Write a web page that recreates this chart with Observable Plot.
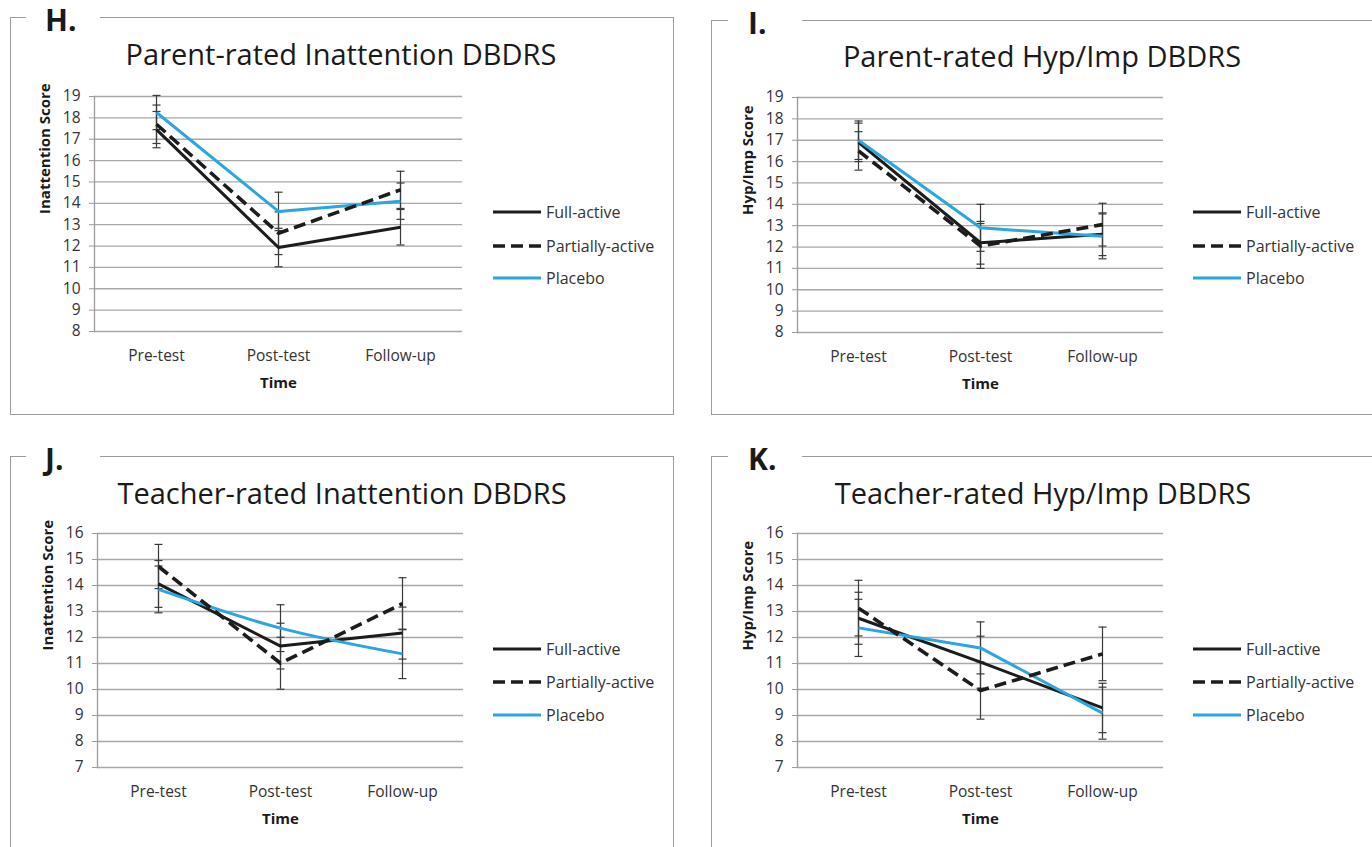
<!DOCTYPE html>
<html>
<head>
<meta charset="utf-8">
<script src="https://cdn.jsdelivr.net/npm/d3@7"></script>
<script src="https://cdn.jsdelivr.net/npm/@observablehq/plot@0.6"></script>
<style>
  body { margin: 0; background: #fff; font-family: "Open Sans", sans-serif; }
  #root { position: relative; width: 1372px; height: 847px; overflow: hidden; background: #fff; }
  .frame { position: absolute; border: 1.5px solid #9b9b9b; box-sizing: border-box; }
  .tag { position: absolute; background: #fff; font-weight: 700; font-size: 30px; line-height: 30px; color: #1a1a1a; height: 36px; }
  .title { position: absolute; font-size: 29px; line-height: 29px; color: #1a1a1a; white-space: nowrap; transform: translate(-50%, -50%); }
  .plot { position: absolute; }
  .legend-row { position: absolute; height: 20px; display: flex; align-items: center; font-size: 16px; color: #333; white-space: nowrap; }
  .legend-row svg { margin-right: 5px; }
</style>
</head>
<body>
<div id="root"></div>
<script>
// ---- categories ----
const times = ["Pre-test", "Post-test", "Follow-up"];
const groups = ["Full-active", "Partially-active", "Placebo"];

// ---- tick labels ----
const parentTicks = [8, 9, 10, 11, 12, 13, 14, 15, 16, 17, 18, 19];
const teacherTicks = [7, 8, 9, 10, 11, 12, 13, 14, 15, 16];

// ---- H. Parent-rated Inattention DBDRS ----
const H_full = [17.45, 11.93, 12.88];
const H_fullErr = [0.85, 0.9, 0.83];
const H_partial = [17.7, 12.6, 14.63];
const H_partialErr = [0.9, 1.0, 0.87];
const H_placebo = [18.25, 13.62, 14.1];
const H_placeboErr = [0.8, 0.9, 0.85];

// ---- I. Parent-rated Hyp/Imp DBDRS ----
const I_full = [16.9, 12.2, 12.6];
const I_fullErr = [0.9, 1.0, 1.0];
const I_partial = [16.5, 12.05, 13.05];
const I_partialErr = [0.9, 1.05, 1.0];
const I_placebo = [17.0, 12.9, 12.5];
const I_placeboErr = [0.9, 1.1, 1.05];

// ---- J. Teacher-rated Inattention DBDRS ----
const J_full = [14.06, 11.67, 12.17];
const J_fullErr = [0.9, 0.88, 1.0];
const J_partial = [14.73, 11.01, 13.3];
const J_partialErr = [0.85, 1.0, 1.0];
const J_placebo = [13.85, 12.36, 11.37];
const J_placeboErr = [0.9, 0.9, 0.95];

// ---- K. Teacher-rated Hyp/Imp DBDRS ----
const K_full = [12.74, 11.05, 9.29];
const K_fullErr = [1.0, 1.0, 0.95];
const K_partial = [13.13, 9.96, 11.37];
const K_partialErr = [1.07, 1.1, 1.03];
const K_placebo = [12.37, 11.6, 9.09];
const K_placeboErr = [1.1, 1.0, 1.0];

const styles = {
  "Full-active": {stroke: "#1c1c1c", strokeWidth: 3},
  "Partially-active": {stroke: "#1c1c1c", strokeWidth: 3.6, strokeDasharray: "12,6"},
  "Placebo": {stroke: "#2ba6de", strokeWidth: 3}
};
const drawOrder = ["Full-active", "Placebo", "Partially-active"];

// horizontal cap symbol for error bars (half-width = r)
const capSymbol = {
  draw(context, size) {
    const w = Math.sqrt(size / Math.PI);
    context.moveTo(-w, 0);
    context.lineTo(w, 0);
  }
};

const panels = [
  {tag: "H.", title: "Parent-rated Inattention DBDRS", ylabel: "Inattention Score",
   values: [H_full, H_partial, H_placebo], errs: [H_fullErr, H_partialErr, H_placeboErr],
   ticks: parentTicks, plot: {left: 94, right: 462, top: 96, bottom: 331},
   frame: {left: 10, top: 17, right: 674, bottom: 415}, tagBox: {left: 26, width: 74, top: 5, pad: 19},
   titlePos: {x: 341, y: 53}, legend: {x: 493, ys: [212, 246, 278]}, smooth: false},
  {tag: "I.", title: "Parent-rated Hyp/Imp DBDRS", ylabel: "Hyp/Imp Score",
   values: [I_full, I_partial, I_placebo], errs: [I_fullErr, I_partialErr, I_placeboErr],
   ticks: parentTicks, plot: {left: 797, right: 1163, top: 97, bottom: 332},
   frame: {left: 711, top: 20, right: 1400, bottom: 415}, tagBox: {left: 728, width: 74, top: 8, pad: 20},
   titlePos: {x: 1042, y: 55}, legend: {x: 1193, ys: [212, 246, 278]}, smooth: false},
  {tag: "J.", title: "Teacher-rated Inattention DBDRS", ylabel: "Inattention Score",
   values: [J_full, J_partial, J_placebo], errs: [J_fullErr, J_partialErr, J_placeboErr],
   ticks: teacherTicks, plot: {left: 97, right: 463, top: 533, bottom: 767},
   frame: {left: 10, top: 456, right: 674, bottom: 900}, tagBox: {left: 26, width: 74, top: 444, pad: 19},
   titlePos: {x: 342, y: 492}, legend: {x: 493, ys: [649, 682, 715]}, smooth: true},
  {tag: "K.", title: "Teacher-rated Hyp/Imp DBDRS", ylabel: "Hyp/Imp Score",
   values: [K_full, K_partial, K_placebo], errs: [K_fullErr, K_partialErr, K_placeboErr],
   ticks: teacherTicks, plot: {left: 797, right: 1163, top: 533, bottom: 767},
   frame: {left: 711, top: 456, right: 1400, bottom: 900}, tagBox: {left: 728, width: 74, top: 444, pad: 20},
   titlePos: {x: 1043, y: 492}, legend: {x: 1193, ys: [649, 682, 715]}, smooth: false}
];

const root = document.getElementById("root");

function el(tag, cls, css, text) {
  const e = document.createElement(tag);
  if (cls) e.className = cls;
  Object.assign(e.style, css || {});
  if (text != null) e.textContent = text;
  root.appendChild(e);
  return e;
}

for (const p of panels) {
  el("div", "frame", {left: p.frame.left + "px", top: p.frame.top + "px",
    width: (p.frame.right - p.frame.left) + "px", height: (p.frame.bottom - p.frame.top) + "px"});
  el("div", "tag", {left: p.tagBox.left + "px", top: p.tagBox.top + "px", width: p.tagBox.width + "px",
    paddingLeft: p.tagBox.pad + "px", boxSizing: "border-box"}, p.tag);
  el("div", "title", {left: p.titlePos.x + "px", top: p.titlePos.y + "px"}, p.title);

  const rows = [];
  groups.forEach((g, gi) => times.forEach((t, ti) => {
    rows.push({group: g, time: t, value: p.values[gi][ti], err: p.errs[gi][ti]});
  }));

  const ML = 80, MR = 20, MT = 20, MB = 80;
  const [y0, y1] = [p.ticks[0], p.ticks[p.ticks.length - 1]];
  const lineMarks = drawOrder.map(g => Plot.line(rows.filter(r => r.group === g), {
    x: "time", y: "value", ...styles[g],
    curve: (p.smooth && g === "Placebo") ? "catmull-rom" : "linear",
    strokeLinejoin: "round", strokeLinecap: "butt"
  }));
  const capStyle = {x: "time", symbol: capSymbol, r: 4, fill: "none", stroke: "#3a3a3a", strokeWidth: 1.2};

  const chart = Plot.plot({
    width: p.plot.right - p.plot.left + ML + MR,
    height: p.plot.bottom - p.plot.top + MT + MB,
    marginLeft: ML, marginRight: MR, marginTop: MT, marginBottom: MB,
    style: {fontFamily: "'Open Sans', sans-serif", background: "transparent", overflow: "visible"},
    x: {type: "point", domain: times, padding: 0.5},
    y: {domain: [y0, y1]},
    marks: [
      Plot.gridY(p.ticks, {stroke: "#a8a8a8", strokeOpacity: 1, strokeWidth: 1.3}),
      Plot.frame({anchor: "left", stroke: "#9b9b9b", strokeWidth: 1.3}),
      Plot.axisY(p.ticks, {tickSize: 5, tickPadding: 9, fontSize: 15.5, stroke: "#9b9b9b", fill: "#333", label: null}),
      Plot.axisX({tickSize: 0, tickPadding: 18, fontSize: 15.5, fill: "#333", label: null}),
      Plot.text([p.ylabel], {frameAnchor: "left", dx: -49, rotate: -90, fontWeight: "bold", fontSize: 15, fill: "#1a1a1a"}),
      Plot.text(["Time"], {frameAnchor: "bottom", dy: 52, lineAnchor: "middle", fontWeight: "bold", fontSize: 15, fill: "#1a1a1a"}),
      Plot.ruleX(rows, {x: "time", y1: d => d.value - d.err, y2: d => d.value + d.err, stroke: "#3a3a3a", strokeWidth: 1.2}),
      Plot.dot(rows, {...capStyle, y: d => d.value + d.err}),
      Plot.dot(rows, {...capStyle, y: d => d.value - d.err}),
      ...lineMarks
    ]
  });
  chart.classList.add("plot");
  chart.style.left = (p.plot.left - ML) + "px";
  chart.style.top = (p.plot.top - MT) + "px";
  root.appendChild(chart);

  groups.forEach((g, i) => {
    const row = el("div", "legend-row", {left: p.legend.x + "px", top: (p.legend.ys[i] - 10) + "px"});
    const s = styles[g];
    row.innerHTML = `<svg width="48" height="8"><line x1="0" x2="48" y1="4" y2="4" stroke="${s.stroke}" stroke-width="${s.strokeWidth}" ${s.strokeDasharray ? `stroke-dasharray="12,6"` : ""}/></svg><span>${g}</span>`;
  });
}
</script>
</body>
</html>
